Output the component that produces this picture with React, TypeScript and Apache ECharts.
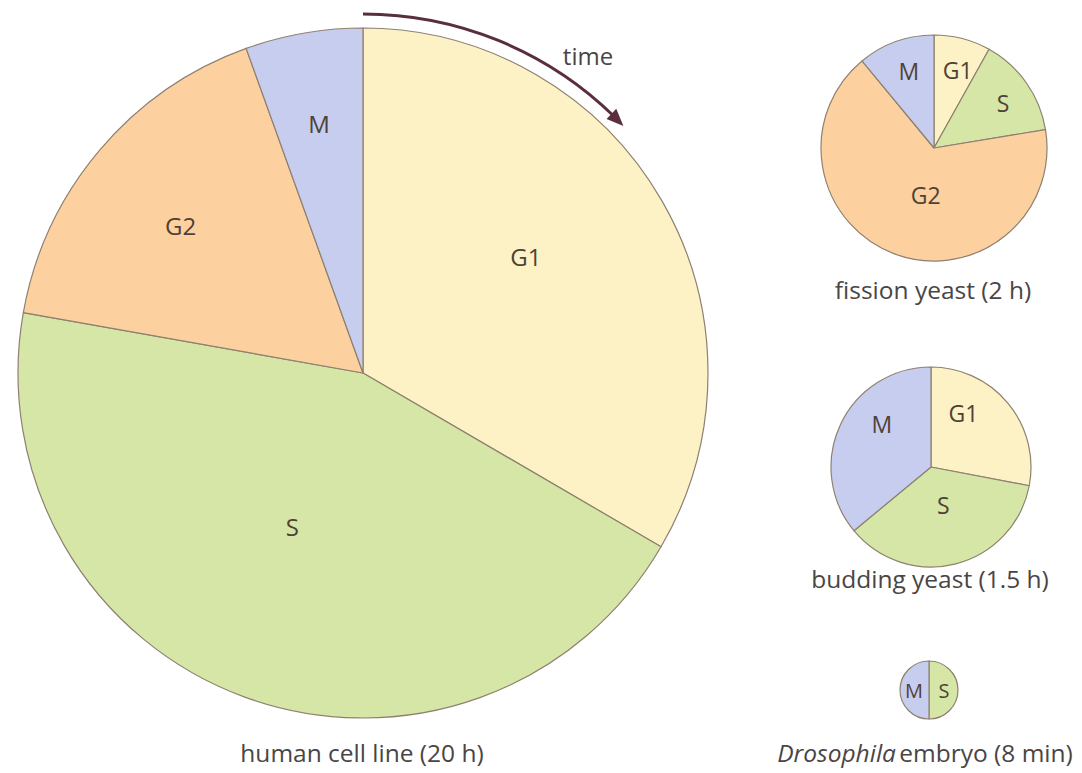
import React, { useEffect, useRef } from "react";
import * as echarts from "echarts";

// ---- data (share of the cycle) ----
const humanPhases = ["G1", "S", "G2", "M"];
const humanValues = [33.4, 44.4, 16.7, 5.5];

const fissionPhases = ["G1", "S", "G2", "M"];
const fissionValues = [8.1, 14.3, 66.6, 11.0];

const buddingPhases = ["G1", "S", "M"];
const buddingValues = [28.0, 36.0, 36.0];

const drosophilaPhases = ["S", "M"];
const drosophilaValues = [50, 50];

const captions = [
  "human cell line (20 h)",
  "fission yeast (2 h)",
  "budding yeast (1.5 h)",
  "embryo (8 min)",
];

// ---- styling / layout ----
const phaseColors: Record<string, string> = {
  G1: "#fdf1c6",
  S: "#d5e6a6",
  G2: "#fcd19f",
  M: "#c7cdee",
};
const FONT = "'Open Sans', 'Noto Sans', sans-serif";
const TEXT = "#4a4545";
const LABEL = "#4e4238";
const CAPTION_SIZE = 24.5;

// pie geometry: center x, center y, radius
const pies = [
  { cx: 363, cy: 373, r: 345 },
  { cx: 934, cy: 148, r: 113 },
  { cx: 931, cy: 467, r: 100 },
  { cx: 929, cy: 690, r: 29 },
];
// label anchors per slice: [angle clockwise from 12 o'clock (deg), fraction of radius]
const labelAnchors = [
  [[54.5, 0.58], [204.7, 0.49], [309, 0.68], [350, 0.735]],
  [[17, 0.72], [57, 0.73], [190, 0.42], [342, 0.72]],
  [[31, 0.63], [162, 0.4], [311, 0.65]],
  [[90, 0.52], [270, 0.52]],
];

function polar(cx: number, cy: number, r: number, deg: number) {
  const a = (deg * Math.PI) / 180;
  return [cx + r * Math.sin(a), cy - r * Math.cos(a)];
}

function makePie(idx: number, phases: string[], values: number[], fontSize: number) {
  const p = pies[idx];
  return {
    type: "pie",
    center: [p.cx, p.cy],
    radius: [0, p.r],
    startAngle: 90,
    clockwise: true,
    silent: true,
    avoidLabelOverlap: false,
    emphasis: { disabled: true },
    itemStyle: { borderColor: "#8e8171", borderWidth: 1.2 },
    label: {
      show: true,
      position: "inside",
      formatter: "{b}",
      fontFamily: FONT,
      fontSize,
      color: LABEL,
    },
    labelLine: { show: false },
    labelLayout: (params: any) => {
      const a = labelAnchors[idx][params.dataIndex];
      const [x, y] = polar(p.cx, p.cy, p.r * a[1], a[0]);
      return { x, y };
    },
    data: phases.map((name, i) => ({
      name,
      value: values[i],
      itemStyle: { color: phaseColors[name] },
    })),
  };
}

function caption(x: number, y: number, text: string) {
  return {
    type: "text",
    x,
    y,
    style: {
      text,
      fontFamily: FONT,
      fontSize: CAPTION_SIZE,
      fill: TEXT,
      align: "center",
      verticalAlign: "middle",
    },
  };
}

export default function App() {
  const ref = useRef<HTMLDivElement>(null);
  useEffect(() => {
    document.body.style.margin = "0";
    const chart = echarts.init(ref.current!, undefined, { renderer: "svg" });

    // time arrow, concentric with the big pie
    const big = pies[0];
    const arrowR = 359;
    const tipDeg = 46.5;
    const headLen = 17;
    const headHalf = 7;
    const baseDeg = tipDeg - (headLen / arrowR) * (180 / Math.PI);
    const tip = polar(big.cx, big.cy, arrowR, tipDeg);
    const b1 = polar(big.cx, big.cy, arrowR - headHalf, baseDeg);
    const b2 = polar(big.cx, big.cy, arrowR + headHalf, baseDeg);

    chart.setOption({
      animation: false,
      backgroundColor: "#ffffff",
      series: [
        makePie(0, humanPhases, humanValues, 24),
        makePie(1, fissionPhases, fissionValues, 23),
        makePie(2, buddingPhases, buddingValues, 23),
        makePie(3, drosophilaPhases, drosophilaValues, 20),
      ],
      graphic: [
        {
          type: "arc",
          silent: true,
          shape: {
            cx: big.cx,
            cy: big.cy,
            r: arrowR,
            startAngle: -Math.PI / 2,
            endAngle: -Math.PI / 2 + ((baseDeg + 0.5) * Math.PI) / 180,
            clockwise: true,
          },
          style: { stroke: "#5a2e3f", lineWidth: 3, fill: null },
        },
        {
          type: "polygon",
          silent: true,
          shape: { points: [tip, b1, b2] },
          style: { fill: "#5a2e3f" },
        },
        {
          type: "text",
          x: 588,
          y: 55,
          style: {
            text: "time",
            fontFamily: FONT,
            fontSize: 24,
            fill: TEXT,
            align: "center",
            verticalAlign: "middle",
          },
        },
        caption(362, 752, captions[0]),
        caption(933, 289, captions[1]),
        caption(930, 578, captions[2]),
        {
          type: "text",
          x: 925,
          y: 752,
          style: {
            text: "{i|Drosophila} {n|" + captions[3] + "}",
            align: "center",
            verticalAlign: "middle",
            rich: {
              i: { fontFamily: FONT, fontSize: CAPTION_SIZE, fontStyle: "italic", fill: TEXT },
              n: { fontFamily: FONT, fontSize: CAPTION_SIZE, fill: TEXT },
            },
          },
        },
      ],
    });
    return () => chart.dispose();
  }, []);
  return <div ref={ref} style={{ width: 1082, height: 773 }} />;
}
